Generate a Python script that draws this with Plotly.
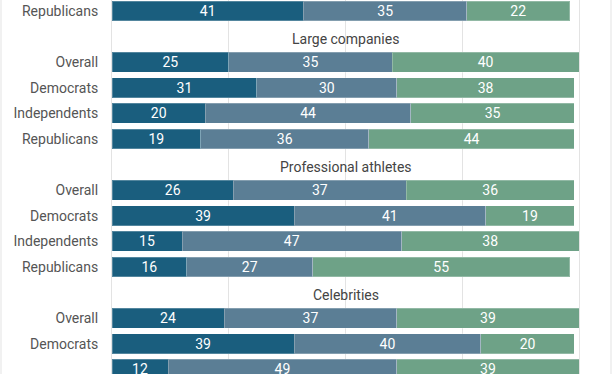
import plotly.graph_objects as go

# Data (top row belongs to a preceding, cropped group)
row_labels = ["Republicans",
              "", "Overall", "Democrats", "Independents", "Republicans",
              "", "Overall", "Democrats", "Independents", "Republicans",
              "", "Overall", "Democrats", "Independents"]
headers = {1: "Large companies", 6: "Professional athletes", 11: "Celebrities"}
s1 = [41, None, 25, 31, 20, 19, None, 26, 39, 15, 16, None, 24, 39, 12]
s2 = [35, None, 35, 30, 44, 36, None, 37, 41, 47, 27, None, 37, 40, 49]
s3 = [22, None, 40, 38, 35, 44, None, 36, 19, 38, 55, None, 39, 20, 39]

colors = ["#1a5e7e", "#5b7e95", "#6ea287"]
ys = list(range(len(row_labels)))

fig = go.Figure()
for vals, col in zip([s1, s2, s3], colors):
    fig.add_trace(go.Bar(
        x=vals, y=ys, orientation="h",
        marker=dict(color=col, line=dict(color="rgba(255,255,255,0.25)", width=1)),
        text=[("" if v is None else str(v)) for v in vals],
        textposition="inside", insidetextanchor="middle", textangle=0,
        constraintext="none", cliponaxis=True,
        textfont=dict(color="white", size=14, family="Roboto"),
        hoverinfo="skip", showlegend=False,
    ))

for i, h in headers.items():
    fig.add_annotation(x=50, y=i + 0.08, xref="x", yref="y", text=h, showarrow=False,
                       font=dict(size=14, color="#444", family="Roboto"))

fig.update_layout(
    barmode="stack", bargap=0.22,
    width=612, height=374,
    margin=dict(l=112, r=33, t=0, b=0, autoexpand=False),
    paper_bgcolor="white", plot_bgcolor="white",
    xaxis=dict(range=[0, 100], tickvals=[0, 25, 50, 75, 100], showticklabels=False,
               showgrid=True, gridcolor="#e3e3e3", gridwidth=1, zeroline=False,
               fixedrange=True, automargin=False),
    yaxis=dict(range=[14.18, -0.43], tickvals=ys, ticktext=row_labels,
               tickfont=dict(size=14, color="#555", family="Roboto"),
               ticks="outside", ticklen=10, tickcolor="rgba(0,0,0,0)",
               showgrid=False, zeroline=False, automargin=False, fixedrange=True,
               showline=True, mirror=True, linecolor="#e3e3e3", linewidth=1),
    shapes=[
        dict(type="line", xref="paper", yref="paper", x0=-0.2377, x1=-0.2377, y0=0, y1=1,
             line=dict(color="#e3e3e3", width=1)),
        dict(type="line", xref="paper", yref="paper", x0=1.0685, x1=1.0685, y0=0, y1=1,
             line=dict(color="#e3e3e3", width=1)),
    ],
)

fig.write_html("out.html", config={"displayModeBar": False},
               post_script="document.body.style.margin='0px';")
